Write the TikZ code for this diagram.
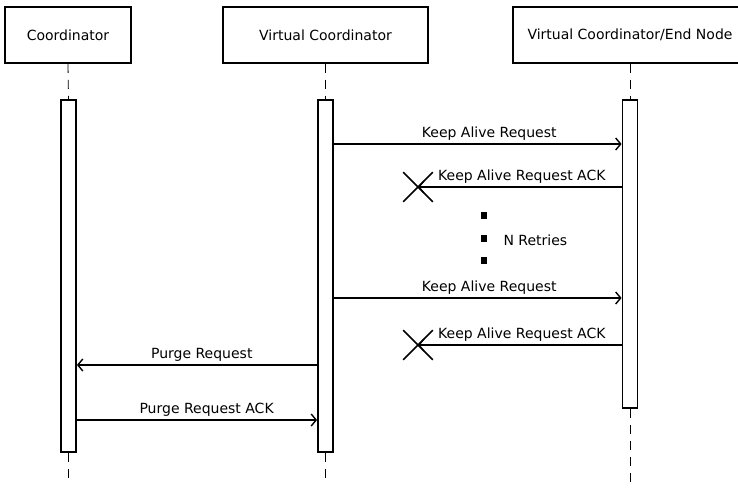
\documentclass[tikz,border=0pt]{standalone}
\usepackage{fontspec}
\setmainfont{DejaVu Sans}
\usetikzlibrary{arrows.meta,shapes.misc}

\tikzset{
  actor/.style={draw, line width=1.8pt, minimum height=56pt, inner sep=0pt, font=\fontsize{14}{16}\selectfont},
  activation/.style={draw, line width=1.8pt, fill=white, minimum width=15pt, inner sep=0pt},
  lifeline/.style={dash pattern=on 9pt off 7pt, line width=0.8pt},
  msg/.style={line width=1.4pt, -{Straight Barb[length=5pt,width=12pt,line width=1.4pt]}},
  lost/.style={draw, cross out, line width=1.6pt, minimum size=28pt, inner sep=0pt},
  msglabel/.style={font=\fontsize{14}{16}\selectfont, above, inner sep=2.5pt}
}

\begin{document}
\begin{tikzpicture}[x=1pt, y=-1pt]
    \useasboundingbox (0,0) rectangle (738,487);

    % Partecipanti
    \node[actor, minimum width=126pt] (coord) at (68,35) {Coordinator};
    \node[actor, minimum width=205pt] (vc) at (325.5,35) {Virtual Coordinator};
    \node[actor, minimum width=234pt] (ed) at (630,35) {Virtual Coordinator/End Node};

    % Barre di attivazione
    \node[activation, minimum height=352pt] (coord bar) at (68.5,276) {};
    \node[activation, minimum height=352pt] (vc bar) at (325.5,276) {};
    \node[activation, minimum height=308pt] (ed bar) at (630,254) {};

    % Linee di vita
    \coordinate (coord end) at (68.5,480);
    \coordinate (vc end) at (325.5,480);
    \coordinate (ed end) at (630,482);
    \draw[lifeline] (coord.south) -- (coord bar.north);
    \draw[lifeline] (vc.south) -- (vc bar.north);
    \draw[lifeline] (ed.south -| ed bar) -- (ed bar.north);
    \draw[lifeline] (coord bar.south) -- (coord end);
    \draw[lifeline] (vc bar.south) -- (vc end);
    \draw[lifeline] (ed bar.south) -- (ed end);

    % Messaggi persi
    \node[lost] (lost1) at (418,187) {};
    \node[lost] (lost2) at (418,345) {};

    % Keep alive
    \coordinate (m1) at (0,144);
    \coordinate (m2) at (0,298);
    \draw[msg] (vc bar.east |- m1) -- node[msglabel, pos=0.54] {Keep Alive Request} (ed bar.west |- m1);
    \draw[msg] (ed bar.west |- lost1) -- node[msglabel, pos=0.49] {Keep Alive Request ACK} (lost1.center);
    \draw[msg] (vc bar.east |- m2) -- node[msglabel, pos=0.54] {Keep Alive Request} (ed bar.west |- m2);
    \draw[msg] (ed bar.west |- lost2) -- node[msglabel, pos=0.49] {Keep Alive Request ACK} (lost2.center);

    % Tentativi
    \foreach \y [count=\i] in {215,238,260}
        \fill (481,\y-3.5) rectangle ++(6,7) coordinate (dot\i);
    \node[anchor=west, font=\fontsize{14}{16}\selectfont] (retries) at (500,240) {N Retries};

    % Purge
    \coordinate (m3) at (0,365);
    \coordinate (m4) at (0,420);
    \draw[msg] (vc bar.west |- m3) -- node[msglabel, pos=0.48] {Purge Request} (coord bar.east |- m3);
    \draw[msg] (coord bar.east |- m4) -- node[msglabel, pos=0.54] {Purge Request ACK} (vc bar.west |- m4);
\end{tikzpicture}
\end{document}
